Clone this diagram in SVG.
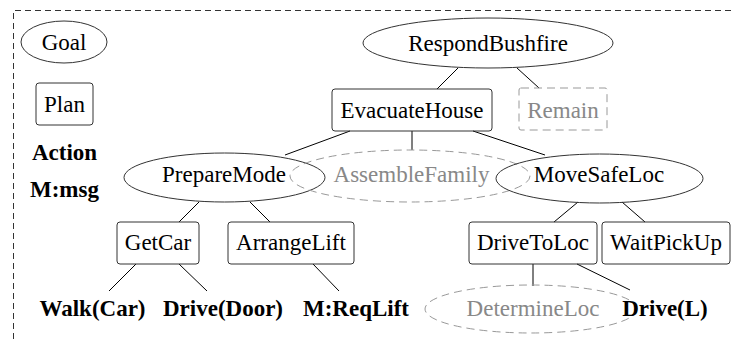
<svg xmlns="http://www.w3.org/2000/svg" width="733" height="339" viewBox="0 0 733 339">
  <rect width="733" height="339" fill="#fff"/>

  <!-- legend frame -->
  <path d="M13.5 339 V10.5 H733" fill="none" stroke="#333" stroke-width="1" stroke-dasharray="6 4"/>

  <!-- legend -->
  <g id="legend-goal"><ellipse cx="64" cy="42" rx="43" ry="21" fill="none" stroke="#333"/><text font-family="Liberation Serif" font-size="23" text-anchor="middle" x="64" y="50">Goal</text></g>
  <g id="legend-plan"><rect x="36" y="83" width="57" height="42" rx="3" fill="none" stroke="#333"/><text font-family="Liberation Serif" font-size="23" text-anchor="middle" x="64.5" y="112">Plan</text></g>
  <g id="legend-action"><text font-family="Liberation Serif" font-size="23" font-weight="bold" text-anchor="middle" x="64.5" y="160">Action</text></g>
  <g id="legend-msg"><text font-family="Liberation Serif" font-size="23" font-weight="bold" text-anchor="middle" x="64.5" y="197">M:msg</text></g>

  <!-- connectors -->
  <g id="edges" stroke="#000" stroke-width="1" fill="none">
    <line x1="458" y1="68" x2="437" y2="89"/>
    <line x1="517" y1="68" x2="539" y2="88"/>
    <line x1="350" y1="131" x2="285" y2="155"/>
    <line x1="412" y1="131" x2="412" y2="150"/>
    <line x1="473" y1="131" x2="545" y2="155"/>
    <line x1="199" y1="202" x2="179" y2="222"/>
    <line x1="250" y1="202" x2="270" y2="222"/>
    <line x1="578" y1="202" x2="554" y2="222"/>
    <line x1="622" y1="202" x2="645" y2="222"/>
    <line x1="136" y1="264" x2="109" y2="291"/>
    <line x1="179" y1="264" x2="207" y2="291"/>
    <line x1="313" y1="264" x2="339" y2="291"/>
    <line x1="533" y1="264" x2="533" y2="286"/>
    <line x1="577" y1="264" x2="630" y2="290"/>
  </g>

  <!-- goals and plans -->
  <g id="RespondBushfire"><ellipse cx="488" cy="43" rx="125" ry="25" fill="none" stroke="#333"/><text font-family="Liberation Serif" font-size="23" text-anchor="middle" x="488" y="51">RespondBushfire</text></g>
  <g id="EvacuateHouse"><rect x="332" y="89" width="160" height="42" rx="3" fill="none" stroke="#333"/><text font-family="Liberation Serif" font-size="23" text-anchor="middle" x="412" y="118">EvacuateHouse</text></g>
  <g id="Remain"><rect x="519" y="88" width="88" height="42" rx="2" fill="none" stroke="#999" stroke-dasharray="8 5"/><text font-family="Liberation Serif" font-size="23" text-anchor="middle" fill="#888" x="563" y="118">Remain</text></g>

  <g id="PrepareMode"><ellipse cx="224.5" cy="177.5" rx="100.5" ry="24.5" fill="none" stroke="#333"/><text font-family="Liberation Serif" font-size="23" text-anchor="middle" x="224" y="182">PrepareMode</text></g>
  <g id="AssembleFamily"><ellipse cx="410" cy="176" rx="120" ry="26" fill="none" stroke="#999" stroke-dasharray="8 5"/><text font-family="Liberation Serif" font-size="23" text-anchor="middle" fill="#888" x="411.5" y="182">AssembleFamily</text></g>
  <g id="MoveSafeLoc"><ellipse cx="599.5" cy="178.5" rx="103.5" ry="24.5" fill="none" stroke="#333"/><text font-family="Liberation Serif" font-size="23" text-anchor="middle" x="599" y="182">MoveSafeLoc</text></g>

  <g id="GetCar"><rect x="117" y="222" width="82" height="42" rx="3" fill="none" stroke="#333"/><text font-family="Liberation Serif" font-size="23" text-anchor="middle" x="158" y="250">GetCar</text></g>
  <g id="ArrangeLift"><rect x="228" y="222" width="126" height="42" rx="3" fill="none" stroke="#333"/><text font-family="Liberation Serif" font-size="23" text-anchor="middle" x="291" y="250">ArrangeLift</text></g>
  <g id="DriveToLoc"><rect x="469" y="222" width="128" height="42" rx="3" fill="none" stroke="#333"/><text font-family="Liberation Serif" font-size="23" text-anchor="middle" x="533" y="250">DriveToLoc</text></g>
  <g id="WaitPickUp"><rect x="602" y="222" width="128" height="42" rx="3" fill="none" stroke="#333"/><text font-family="Liberation Serif" font-size="23" text-anchor="middle" x="666" y="250">WaitPickUp</text></g>

  <!-- actions and messages -->
  <g id="WalkCar"><text font-family="Liberation Serif" font-size="23" font-weight="bold" text-anchor="middle" x="92.5" y="316">Walk(Car)</text></g>
  <g id="DriveDoor"><text font-family="Liberation Serif" font-size="23" font-weight="bold" text-anchor="middle" x="223" y="316">Drive(Door)</text></g>
  <g id="ReqLift"><text font-family="Liberation Serif" font-size="23" font-weight="bold" text-anchor="middle" x="356" y="316">M:ReqLift</text></g>
  <g id="DetermineLoc"><ellipse cx="531" cy="309" rx="106" ry="24" fill="none" stroke="#999" stroke-dasharray="8 5"/><text font-family="Liberation Serif" font-size="23" text-anchor="middle" fill="#888" x="533" y="316">DetermineLoc</text></g>
  <g id="DriveL"><text font-family="Liberation Serif" font-size="23" font-weight="bold" text-anchor="middle" x="665" y="316">Drive(L)</text></g>
</svg>
